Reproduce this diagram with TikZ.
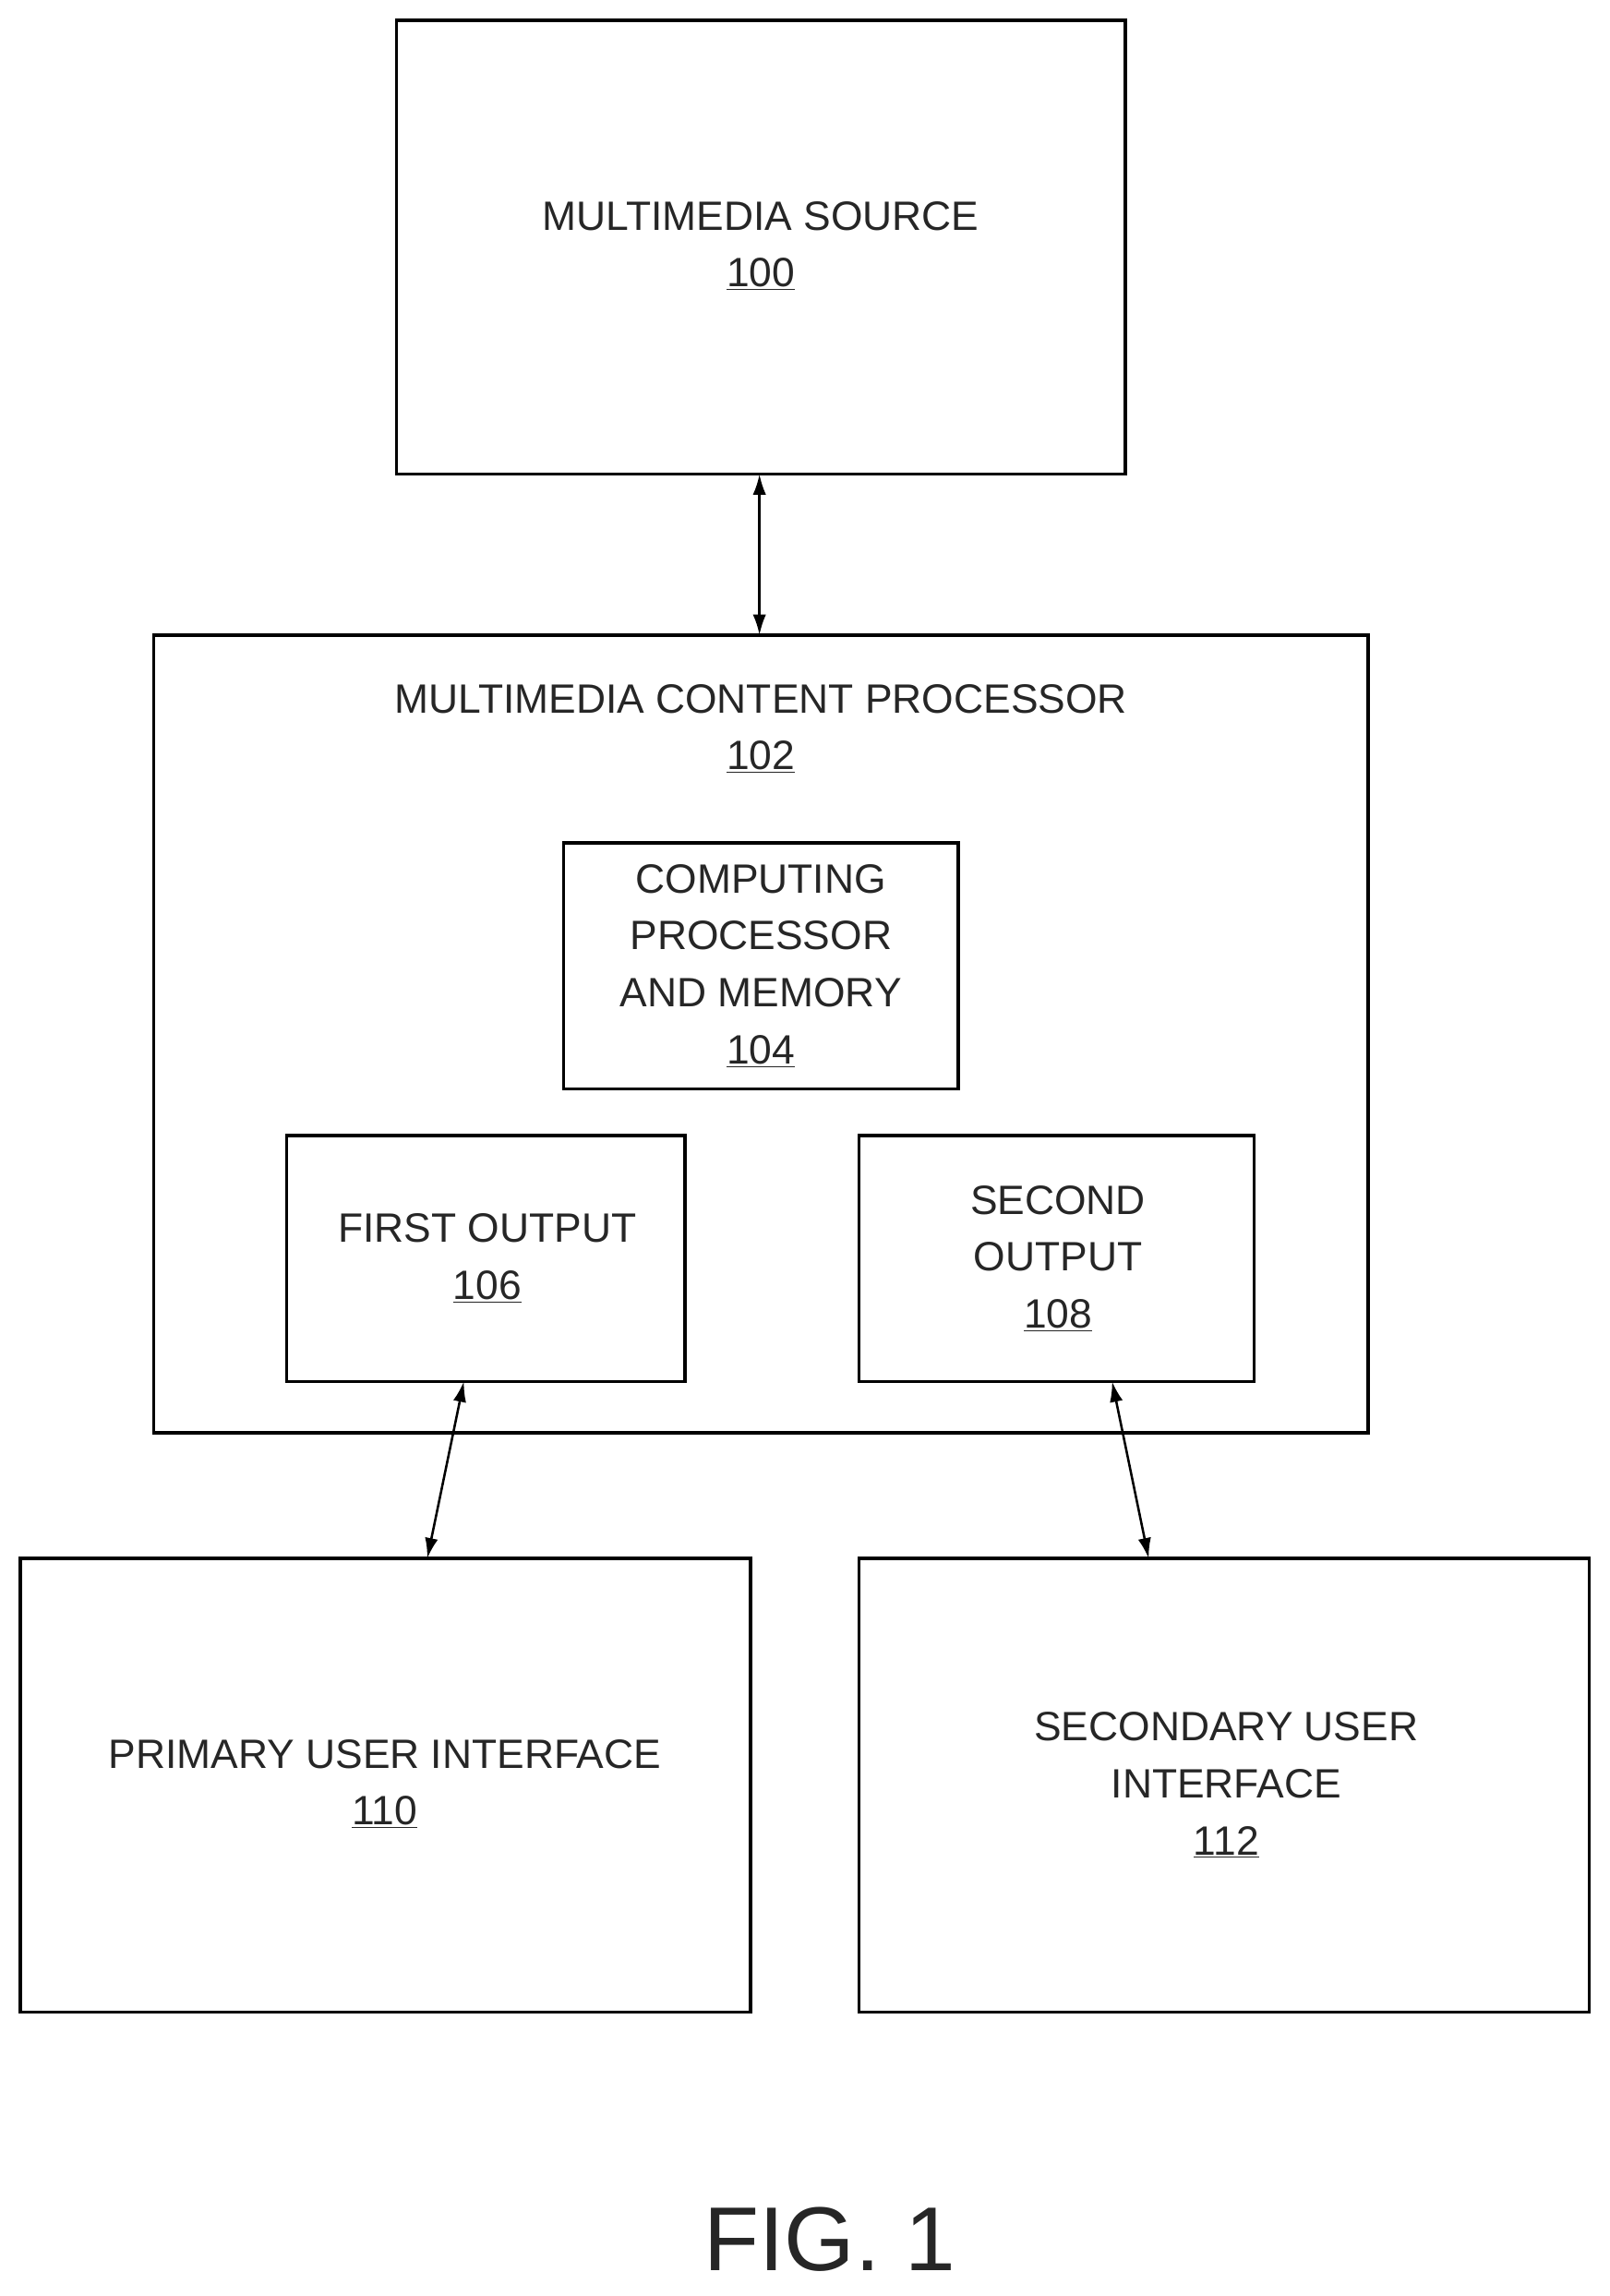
\documentclass[tikz,border=0pt]{standalone}
\usepackage{fontspec}
\setmainfont{Liberation Sans}
\usetikzlibrary{arrows.meta}
\begin{document}
\begin{tikzpicture}[x=1pt,y=-1pt,
  box/.style={draw,line width=2.2pt},
  lbl/.style={align=center,font=\fontsize{28}{39}\selectfont,text=black!85},
  conn/.style={line width=1.6pt,{Latex[length=14pt,width=9pt]}-{Latex[length=14pt,width=9pt]}}]
\useasboundingbox (0,0) rectangle (1100,1569);
\draw[box] (271,14) rectangle (769,324);
\node[lbl] (src) at (520,168) {MULTIMEDIA SOURCE\\\underline{100}};
\draw[box] (105,434) rectangle (935,979);
\node[lbl] (proc) at (520,498) {MULTIMEDIA CONTENT PROCESSOR\\\underline{102}};
\draw[box] (385,576) rectangle (655,744);
\node[lbl] (cpu) at (520,660) {COMPUTING\\PROCESSOR\\AND MEMORY\\\underline{104}};
\draw[box] (196,776) rectangle (468,944);
\node[lbl] (o1) at (333,860) {FIRST OUTPUT\\\underline{106}};
\draw[box] (587,776) rectangle (857,944);
\node[lbl] (o2) at (723,860) {SECOND\\OUTPUT\\\underline{108}};
\draw[box] (14,1065) rectangle (513,1375);
\node[lbl] (pui) at (263,1219) {PRIMARY USER INTERFACE\\\underline{110}};
\draw[box] (587,1065) rectangle (1086,1375);
\node[lbl] (sui) at (838,1220) {SECONDARY USER\\INTERFACE\\\underline{112}};
\coordinate (a1) at (519,324); \coordinate (a2) at (519,434);
\coordinate (b1) at (317,944); \coordinate (b2) at (292,1065);
\coordinate (c1) at (760,944); \coordinate (c2) at (785,1065);
\draw[conn] (a1) -- (a2);
\draw[conn] (b1) -- (b2);
\draw[conn] (c1) -- (c2);
\node[font=\fontsize{62}{70}\selectfont,text=black!85] (fig) at (567,1530) {FIG. 1};
\end{tikzpicture}
\end{document}
